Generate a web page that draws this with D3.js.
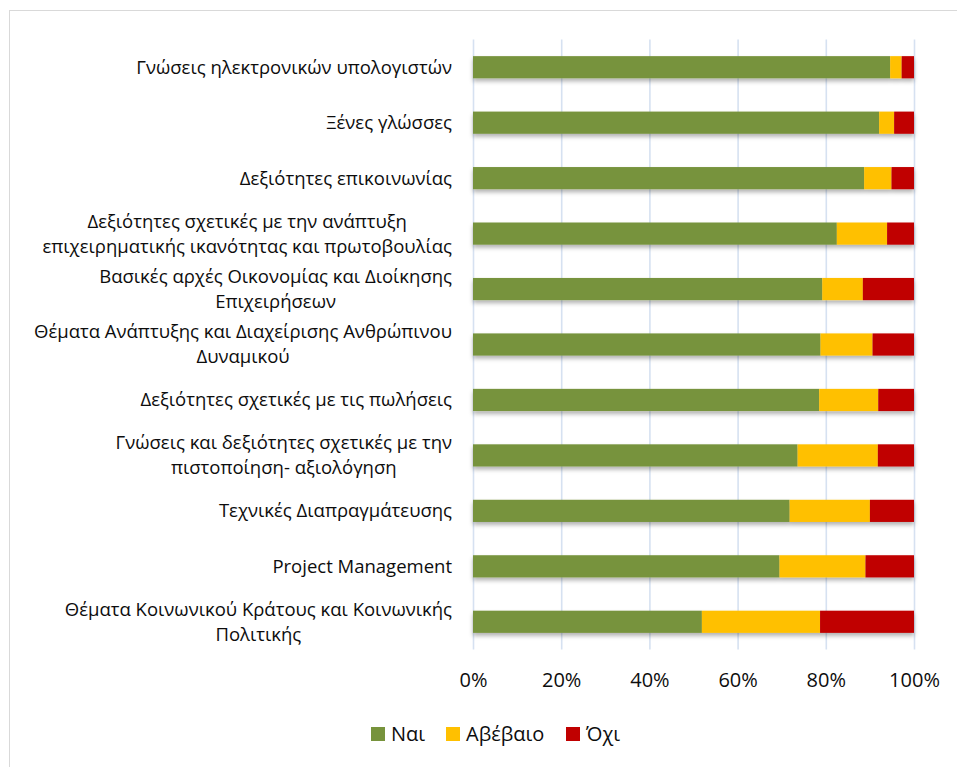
<!DOCTYPE html>
<html>
<head>
<meta charset="utf-8">
<script src="https://cdn.jsdelivr.net/npm/d3@7"></script>
<style>
  html, body { margin: 0; padding: 0; background: #fff; }
  svg { display: block; }
  text { font-family: "Open Sans", "Noto Sans", sans-serif; fill: #0d0d0d; }
</style>
</head>
<body>
<svg id="chart" width="957" height="767"></svg>
<script>
// Skills categories, top to bottom ("\n" marks a wrapped line)
const categories = [
  "Γνώσεις ηλεκτρονικών υπολογιστών",
  "Ξένες γλώσσες",
  "Δεξιότητες επικοινωνίας",
  "Δεξιότητες σχετικές με την ανάπτυξη\nεπιχειρηματικής ικανότητας και πρωτοβουλίας",
  "Βασικές αρχές Οικονομίας και Διοίκησης\nΕπιχειρήσεων",
  "Θέματα Ανάπτυξης και Διαχείρισης Ανθρώπινου\nΔυναμικού",
  "Δεξιότητες σχετικές με τις πωλήσεις",
  "Γνώσεις και δεξιότητες σχετικές με την\nπιστοποίηση- αξιολόγηση",
  "Τεχνικές Διαπραγμάτευσης",
  "Project Management",
  "Θέματα Κοινωνικού Κράτους και Κοινωνικής\nΠολιτικής"
];

// Share of answers per category (%)
const nai      = [94.6, 92.1, 88.7, 82.5, 79.2, 78.8, 78.5, 73.6, 71.8, 69.5, 51.9];
const avevaio  = [ 2.6,  3.4,  6.2, 11.4,  9.2, 11.8, 13.4, 18.2, 18.2, 19.5, 26.8];
const ochi     = [ 2.8,  4.5,  5.1,  6.1, 11.6,  9.4,  8.1,  8.2, 10.0, 11.0, 21.3];

const seriesNames  = ["Ναι", "Αβέβαιο", "Όχι"];
const seriesColors = ["#77933C", "#FFC000", "#C00000"];
const tickValues   = [0, 20, 40, 60, 80, 100];

const rows = categories.map((c, i) => ({ cat: c, "Ναι": nai[i], "Αβέβαιο": avevaio[i], "Όχι": ochi[i] }));

const svg = d3.select("#chart");

// outer chart frame
svg.append("rect")
  .attr("x", 9.5).attr("y", 10.5)
  .attr("width", 960).attr("height", 770)
  .attr("fill", "#fff").attr("stroke", "#D9D9D9").attr("stroke-width", 1);

const plot = { left: 473, right: 914, top: 39.5, bottom: 649.5 };

const x = d3.scaleLinear().domain([0, 100]).range([plot.left, plot.right]);
const y = d3.scaleBand().domain(categories)
  .range([plot.top, plot.bottom])
  .paddingInner(0.6).paddingOuter(0.3);
const color = d3.scaleOrdinal().domain(seriesNames).range(seriesColors);

// soft shadow under the bars
const defs = svg.append("defs");
const f = defs.append("filter").attr("id", "shadow")
  .attr("x", "-5%").attr("y", "-30%").attr("width", "110%").attr("height", "180%");
f.append("feDropShadow").attr("dx", 0).attr("dy", 3).attr("stdDeviation", 2)
  .attr("flood-color", "#000").attr("flood-opacity", 0.3);

// vertical gridlines
const grid = svg.append("g")
  .attr("transform", `translate(0,${plot.bottom})`)
  .call(d3.axisBottom(x).tickValues(tickValues)
    .tickSize(-(plot.bottom - plot.top)).tickFormat(""));
grid.select(".domain").remove();
grid.selectAll(".tick line").attr("stroke", "#D6E1F1").attr("stroke-width", 1.6);

// stacked bars
const stack = d3.stack().keys(seriesNames);
const layers = stack(rows);

const barG = svg.append("g").attr("filter", "url(#shadow)");
barG.selectAll("g.layer")
  .data(layers)
  .join("g").attr("class", "layer")
  .attr("fill", d => color(d.key))
  .selectAll("rect")
  .data(d => d)
  .join("rect")
  .attr("x", d => x(d[0]))
  .attr("width", d => x(d[1]) - x(d[0]))
  .attr("y", d => y(d.data.cat))
  .attr("height", y.bandwidth());

// x axis tick labels
const xAxis = svg.append("g")
  .attr("transform", `translate(0,${plot.bottom})`)
  .call(d3.axisBottom(x).tickValues(tickValues).tickSize(0).tickPadding(23)
    .tickFormat(d => d + "%"));
xAxis.select(".domain").remove();
xAxis.selectAll("text")
  .style("font-family", "'Open Sans', sans-serif")
  .style("font-size", "20px").attr("fill", "#0d0d0d");

// category labels: right aligned block, wrapped lines centred within it
const labelRight = 452;
const lineH = 25;
const labG = svg.append("g");
categories.forEach(c => {
  const lines = c.split("\n");
  const cy = y(c) + y.bandwidth() / 2;
  const g = labG.append("g");
  const texts = lines.map((ln, i) => g.append("text")
    .attr("font-size", "18.5px")
    .attr("dy", "0.35em")
    .attr("y", cy + (i - (lines.length - 1) / 2) * lineH)
    .text(ln));
  const widths = texts.map(t => t.node().getComputedTextLength());
  const maxW = d3.max(widths);
  const cx = labelRight - maxW / 2;
  texts.forEach(t => t.attr("x", cx).attr("text-anchor", "middle"));
});

// legend
const legendItems = [
  { name: seriesNames[0], sx: 371 },
  { name: seriesNames[1], sx: 446 },
  { name: seriesNames[2], sx: 566 }
];
const lg = svg.append("g");
legendItems.forEach(it => {
  lg.append("rect").attr("x", it.sx).attr("y", 727).attr("width", 14).attr("height", 14)
    .attr("fill", color(it.name));
  lg.append("text").attr("x", it.sx + 20).attr("y", 734).attr("dy", "0.35em")
    .attr("font-size", "20px").text(it.name);
});
</script>
</body>
</html>
